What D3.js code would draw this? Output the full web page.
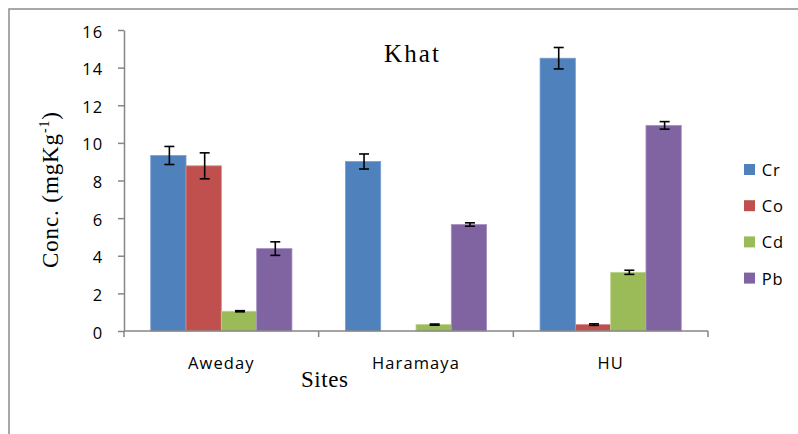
<!DOCTYPE html>
<html>
<head>
<meta charset="utf-8">
<script src="https://cdn.jsdelivr.net/npm/d3@7/dist/d3.min.js"></script>
<style>
  html, body { margin: 0; padding: 0; background: #fff; }
  svg { display: block; }
</style>
</head>
<body>
<svg id="chart" width="798" height="434"></svg>
<script>
// ---- data ----
const sites = ["Aweday", "Haramaya", "HU"];
const metals = ["Cr", "Co", "Cd", "Pb"];
const colors = ["#4F81BD", "#C0504D", "#9BBB59", "#8064A2"];
const strokeColors = ["#7a9fd0", "#d88a88", "#bcd490", "#a592c2"];
const Cr = [9.33, 9.01, 14.5];
const Co = [8.78, 0, 0.34];
const Cd = [1.05, 0.34, 3.12];
const Pb = [4.38, 5.66, 10.93];
const CrErr = [0.48, 0.40, 0.57];
const CoErr = [0.69, 0, 0.04];
const CdErr = [0.03, 0.03, 0.11];
const PbErr = [0.36, 0.09, 0.20];
const yTicks = [0, 2, 4, 6, 8, 10, 12, 14, 16];
const title = "Khat";
const xTitle = "Sites";

const values = [Cr, Co, Cd, Pb];
const errors = [CrErr, CoErr, CdErr, PbErr];
const rows = [];
sites.forEach((s, i) => metals.forEach((m, j) => rows.push({site: s, metal: m, v: values[j][i], e: errors[j][i], j})));

const svg = d3.select("#chart");

// outer frame
svg.append("rect").attr("x", 9).attr("y", 9).attr("width", 830).attr("height", 460)
  .attr("fill", "none").attr("stroke", "#8c8c8c").attr("stroke-width", 1.5);

const x0 = d3.scaleBand().domain(sites).range([124, 708]).padding(0);
const x1 = d3.scaleBand().domain(metals).range([0, x0.bandwidth()]).paddingInner(0).paddingOuter(0.757);
const y = d3.scaleLinear().domain([0, 16]).range([331, 30]);

// bars
const g = svg.append("g");
g.selectAll("rect.bar").data(rows.filter(d => d.v > 0)).join("rect")
  .attr("class", "bar")
  .attr("x", d => x0(d.site) + x1(d.metal))
  .attr("y", d => y(d.v))
  .attr("width", x1.bandwidth())
  .attr("height", d => y(0) - y(d.v))
  .attr("fill", d => colors[d.j])
  .attr("stroke", d => strokeColors[d.j])
  .attr("stroke-width", 0.8);

// error bars
const eb = g.selectAll("g.err").data(rows.filter(d => d.v > 0)).join("g").attr("class", "err")
  .attr("transform", d => `translate(${x0(d.site) + x1(d.metal) + x1.bandwidth() / 2 + 1},0)`);
eb.append("line").attr("x1", 0).attr("x2", 0)
  .attr("y1", d => y(d.v + d.e)).attr("y2", d => y(d.v - d.e))
  .attr("stroke", "#000").attr("stroke-width", 1.6);
eb.append("line").attr("x1", -5).attr("x2", 5)
  .attr("y1", d => y(d.v + d.e)).attr("y2", d => y(d.v + d.e))
  .attr("stroke", "#000").attr("stroke-width", 1.6);
eb.append("line").attr("x1", -5).attr("x2", 5)
  .attr("y1", d => y(d.v - d.e)).attr("y2", d => y(d.v - d.e))
  .attr("stroke", "#000").attr("stroke-width", 1.6);

// y axis
const yAxis = svg.append("g").attr("transform", "translate(124,0)")
  .call(d3.axisLeft(y).tickValues(yTicks).tickSize(6).tickPadding(14.5).tickSizeOuter(0));
yAxis.select(".domain").attr("stroke", "#868686").attr("stroke-width", 1.5);
yAxis.selectAll(".tick line").attr("stroke", "#868686").attr("stroke-width", 1.5);
yAxis.selectAll(".tick text").attr("font-family", "'Open Sans', sans-serif").attr("font-size", 16.5)
  .attr("letter-spacing", "1.2px").attr("fill", "#000").attr("dy", "0.43em");

// x axis
const xAxis = svg.append("g").attr("transform", "translate(0,331)")
  .call(d3.axisBottom(x0).tickSize(0).tickSizeOuter(0));
xAxis.select(".domain").remove();
xAxis.selectAll(".tick text").attr("font-family", "'Open Sans', sans-serif").attr("font-size", 16.5)
  .attr("letter-spacing", "1.1px").attr("fill", "#000").attr("y", 38.3).attr("dy", 0);
xAxis.append("line").attr("x1", 124).attr("x2", 708).attr("y1", 0).attr("y2", 0)
  .attr("stroke", "#868686").attr("stroke-width", 1.5);
const bounds = sites.map(s => x0(s)).concat([x0.range()[1]]);
xAxis.selectAll("line.bt").data(bounds).join("line").attr("class", "bt")
  .attr("x1", d => d).attr("x2", d => d).attr("y1", 0).attr("y2", 6)
  .attr("stroke", "#868686").attr("stroke-width", 1.5);

// title
svg.append("text").attr("x", 384).attr("y", 61.7)
  .attr("font-family", "'Liberation Serif', 'Times New Roman', serif").attr("font-size", 25)
  .attr("textLength", 55).attr("lengthAdjust", "spacing").text(title);

// x title
svg.append("text").attr("x", 301).attr("y", 386.7)
  .attr("font-family", "'Liberation Serif', 'Times New Roman', serif").attr("font-size", 23)
  .attr("textLength", 47).attr("lengthAdjust", "spacing").text(xTitle);

// y title
const yt = svg.append("text").attr("transform", "translate(58,190) rotate(-90)")
  .attr("text-anchor", "middle")
  .attr("font-family", "'Liberation Serif', 'Times New Roman', serif").attr("font-size", 23)
  .attr("textLength", 156).attr("lengthAdjust", "spacing");
yt.append("tspan").text("Conc. (mgKg");
yt.append("tspan").attr("font-size", 14).attr("dy", -9).text("-1");
yt.append("tspan").attr("dy", 9).text(")");

// legend
const leg = svg.append("g");
metals.forEach((m, j) => {
  const ly = 164 + j * 36.2;
  leg.append("rect").attr("x", 744).attr("y", ly).attr("width", 11).attr("height", 11).attr("fill", colors[j]);
  leg.append("text").attr("x", 761.7).attr("y", ly + 12)
    .attr("font-family", "'Open Sans', sans-serif").attr("font-size", 16.5)
    .attr("letter-spacing", "1px").attr("fill", "#000").text(m);
});
</script>
</body>
</html>
